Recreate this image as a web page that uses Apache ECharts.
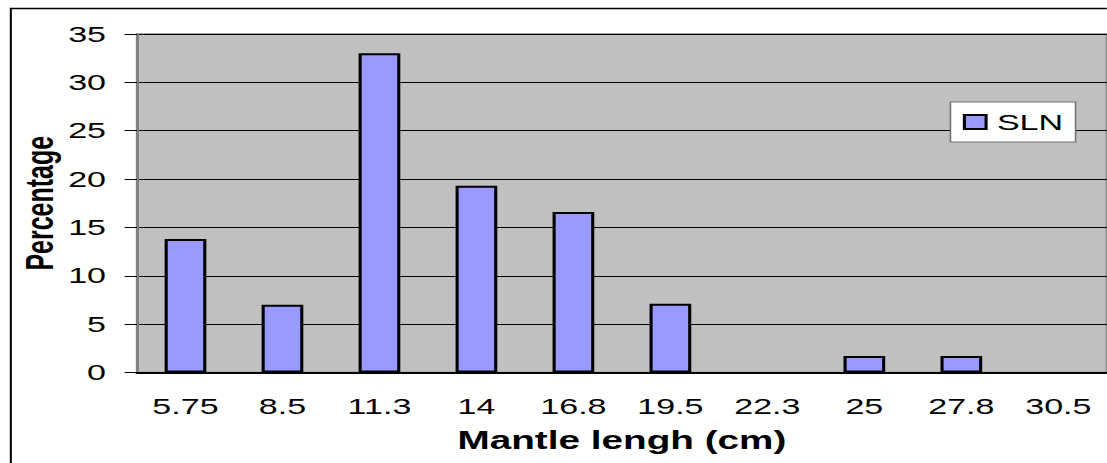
<!DOCTYPE html>
<html>
<head>
<meta charset="utf-8">
<script src="https://cdn.jsdelivr.net/npm/echarts@6/dist/echarts.min.js"></script>
<style>
    html, body { margin: 0; padding: 0; background: #fff; overflow: hidden; }
    /* the original export is stretched sideways, so draw narrower and scale */
    #chart {
        width: 715px;
        height: 463px;
        transform: scaleX(1.548);
        transform-origin: 0 0;
    }
</style>
</head>
<body>
<div id="chart"></div>
<script>
    // size classes (cm) and share of catch (%)
    const categories = ['5.75', '8.5', '11.3', '14', '16.8', '19.5', '22.3', '25', '27.8', '30.5']
    const slnValues = [13.8, 7.0, 33.0, 19.3, 16.6, 7.1, 0, 1.7, 1.7, 0]
    const yTicks = [0, 5, 10, 15, 20, 25, 30, 35]

    const chart = echarts.init(document.getElementById('chart'), null, {renderer: 'svg'})

    const option = {
        animation: false,
        textStyle: { fontFamily: 'Liberation Sans, Arial, sans-serif' },
        grid: {
            left: 88.5,
            right: -1.5,
            top: 34,
            bottom: 90.5,
            show: true,
            backgroundColor: '#c0c0c0',
            borderColor: '#808080',
            borderWidth: 1.5
        },
        legend: {
            left: 614,
            top: 102,
            backgroundColor: '#fff',
            borderColor: '#707070',
            borderWidth: 1,
            padding: [9, 8, 9, 8],
            icon: 'rect',
            itemWidth: 14,
            itemHeight: 14,
            itemGap: 8,
            textStyle: { fontSize: 22, color: '#000', padding: [0, 0, 0, 2] },
            data: ['SLN']
        },
        xAxis: {
            type: 'category',
            data: categories,
            name: 'Mantle lengh (cm)',
            nameLocation: 'middle',
            nameGap: 56,
            nameTextStyle: { fontSize: 25, fontWeight: 'bold', color: '#000' },
            axisLine: { lineStyle: { color: '#000', width: 2 } },
            axisTick: { length: 8, lineStyle: { color: '#000' } },
            axisLabel: { fontSize: 22, color: '#000', margin: 23 }
        },
        yAxis: {
            type: 'value',
            min: yTicks[0],
            max: yTicks[yTicks.length - 1],
            interval: 5,
            name: 'Percentage',
            nameLocation: 'middle',
            nameGap: 50,
            nameMoveOverlap: false,
            nameTextStyle: { fontSize: 25, fontWeight: 'bold', color: '#000' },
            axisLine: { show: true, lineStyle: { color: '#808080', width: 1.5 } },
            axisTick: { show: true, length: 8, lineStyle: { color: '#000' } },
            axisLabel: { fontSize: 22, color: '#000', margin: 20 },
            splitLine: { lineStyle: { color: '#000', width: 1 } }
        },
        series: [{
            name: 'SLN',
            type: 'bar',
            // empty classes draw no bar at all
            data: slnValues.map(v => v === 0 ? '-' : v),
            barWidth: '43%',
            itemStyle: { color: '#9999ff', borderColor: '#000', borderWidth: 2 }
        }],
        graphic: [{
            type: 'rect',
            left: 4.5,
            top: 6,
            shape: { width: 760, height: 480 },
            style: { fill: 'none', stroke: '#000', lineWidth: 1.3 },
            silent: true
        }]
    }

    chart.setOption(option)
</script>
</body>
</html>
